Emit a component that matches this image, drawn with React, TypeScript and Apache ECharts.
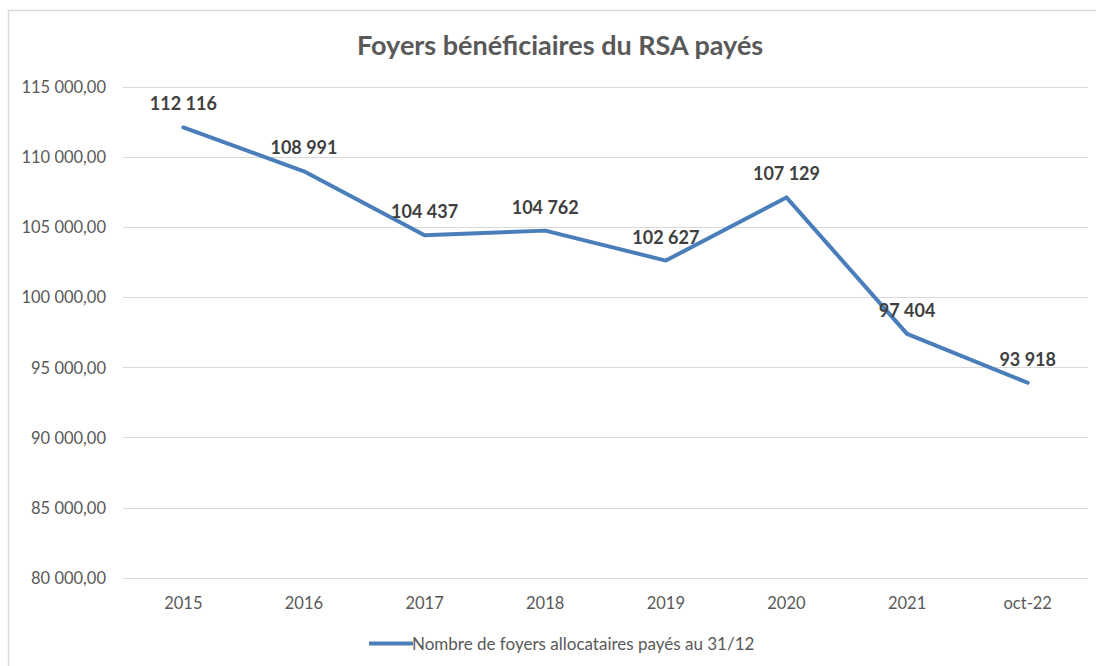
import React, { useEffect, useRef } from "react";
import * as echarts from "echarts";

const categories = ["2015", "2016", "2017", "2018", "2019", "2020", "2021", "oct-22"];
const values = [112116, 108991, 104437, 104762, 102627, 107129, 97404, 93918];
const seriesName = "Nombre de foyers allocataires payés au 31/12";
const titleText = "Foyers bénéficiaires du RSA payés";

const FONT = "Lato, 'Open Sans', sans-serif";
const BLUE = "#4a7ebb";

function fmtThousands(v: number): string {
  return Math.round(v).toString().replace(/\B(?=(\d{3})+(?!\d))/g, " ");
}

export default function App() {
  const ref = useRef<HTMLDivElement>(null);
  useEffect(() => {
    if (!ref.current) return;
    const chart = echarts.init(ref.current, undefined, { renderer: "svg" });
    chart.setOption({
      animation: false,
      backgroundColor: "#ffffff",
      graphic: [
        {
          type: "rect",
          shape: { x: 8.5, y: 10.5, width: 1100, height: 700 },
          style: { fill: "none", stroke: "#d9d9d9", lineWidth: 1.5 },
          silent: true,
        },
      ],
      title: {
        text: titleText,
        left: 352,
        top: 26,
        textStyle: { fontFamily: FONT, fontWeight: "bold", fontSize: 27, color: "#595959" },
      },
      legend: {
        data: [seriesName],
        left: 364,
        top: 630,
        icon: "rect",
        itemWidth: 44,
        itemHeight: 4,
        itemStyle: { color: BLUE },
        textStyle: { fontFamily: FONT, fontSize: 17, color: "#595959", padding: [0, 0, 0, -6] },
      },
      grid: { left: 123, right: 8, top: 87, bottom: 88, containLabel: false },
      xAxis: {
        type: "category",
        data: categories,
        boundaryGap: true,
        axisLine: { show: false },
        axisTick: { show: false },
        axisLabel: { fontFamily: FONT, fontSize: 16.5, color: "#595959", margin: 16 },
      },
      yAxis: {
        type: "value",
        min: 80000,
        max: 115000,
        interval: 5000,
        axisLine: { show: false },
        axisTick: { show: false },
        splitLine: { lineStyle: { color: "#d9d9d9", width: 1 } },
        axisLabel: {
          fontFamily: FONT,
          fontSize: 16.5,
          color: "#595959",
          margin: 17,
          formatter: (v: number) => fmtThousands(v) + ",00",
        },
      },
      series: [
        {
          name: seriesName,
          type: "line",
          data: values,
          symbol: "circle",
          symbolSize: 0.01,
          showSymbol: true,
          lineStyle: { color: BLUE, width: 4, cap: "round", join: "round" },
          itemStyle: { color: BLUE },
          label: {
            show: true,
            position: "top",
            distance: 15,
            fontFamily: FONT,
            fontWeight: "bold",
            fontSize: 18,
            color: "#404040",
            formatter: (p: any) => fmtThousands(p.value),
          },
        },
      ],
    });
    return () => chart.dispose();
  }, []);
  return (
    <div
      ref={ref}
      style={{ position: "fixed", left: 0, top: 0, width: 1096, height: 666 }}
    />
  );
}
